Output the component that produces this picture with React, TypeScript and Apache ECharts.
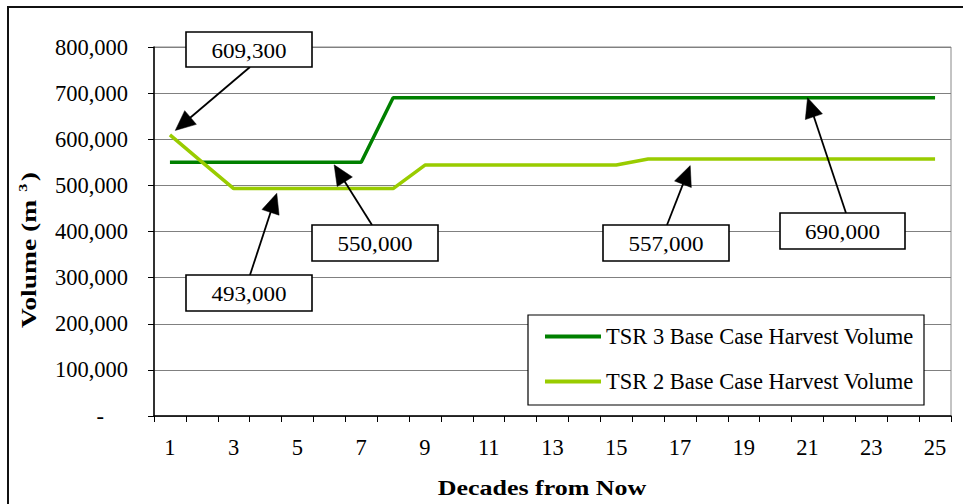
import React, { useEffect, useRef } from "react";
import * as echarts from "echarts";

const decades = ["1","2","3","4","5","6","7","8","9","10","11","12","13","14","15","16","17","18","19","20","21","22","23","24","25"];
const tsr3Volume = [550000,550000,550000,550000,550000,550000,550000,690000,690000,690000,690000,690000,690000,690000,690000,690000,690000,690000,690000,690000,690000,690000,690000,690000,690000];
const tsr2Volume = [609300,551000,493000,493000,493000,493000,493000,493000,544000,544000,544000,544000,544000,544000,544000,557000,557000,557000,557000,557000,557000,557000,557000,557000,557000];
const seriesNames = ["TSR 3 Base Case Harvest Volume", "TSR 2 Base Case Harvest Volume"];
const yMin = 0;
const yMax = 800000;
const yInterval = 100000;

// callouts: label text, decade (position along x), value pointed at
const calloutLabels = ["609,300", "493,000", "550,000", "557,000", "690,000"];
const calloutDecades = [1, 4.4, 6.1, 17.4, 21];
const calloutValues = [609300, 493000, 550000, 557000, 690000];
// layout of callout boxes (pixels): [x, y, w, h], arrow start [x, y], gap before target
const calloutBoxes = [[186,32,126,35],[186,275,126,36],[312,225,126,36],[603,225,126,36],[780,213,125,36]];
const calloutStarts = [[250,67],[250,275],[372,225],[667,225],[846,213]];
const calloutGaps = [7,5,3,7,0];

const FONT = "'Liberation Serif', 'Times New Roman', serif";

export default function App() {
  const ref = useRef<HTMLDivElement>(null);
  useEffect(() => {
    if (!ref.current) return;
    const chart = echarts.init(ref.current, null, { renderer: "svg" });
    const staticGraphics: any[] = [
      { type: "rect", z: 0, silent: true, shape: { x: 8, y: 7, width: 1000, height: 1000 }, style: { fill: "none", stroke: "#111", lineWidth: 2 } },
      { type: "rect", z: 3, silent: true, shape: { x: 528, y: 315, width: 396, height: 90 }, style: { fill: "#fff", stroke: "#000", lineWidth: 1.2 } },
      { type: "text", z: 10, x: 542, y: 488, scaleX: 1.18, style: { text: "Decades from Now", align: "center", verticalAlign: "middle", fontFamily: FONT, fontSize: 22, fontWeight: "bold", fill: "#000" } },
      { type: "text", z: 10, x: 28, y: 250, rotation: Math.PI / 2, scaleX: 1.25, style: {
        text: "{b|Volume (m }{s|3}{b|)}", align: "center", verticalAlign: "middle", fill: "#000",
        rich: {
          b: { fontFamily: FONT, fontSize: 22, fontWeight: "bold", lineHeight: 24 },
          s: { fontFamily: FONT, fontSize: 13, fontWeight: "bold", lineHeight: 24, verticalAlign: "top", padding: [0, 2, 0, 1] },
        } } },
    ];
    const option: any = {
      animation: false,
      backgroundColor: "#fff",
      grid: { left: 154, right: 12, top: 47, bottom: 88, show: true, borderColor: "#888", borderWidth: 1, backgroundColor: "transparent" },
      legend: {
        data: seriesNames, orient: "vertical", left: 545, top: 325, padding: 0, z: 5,
        icon: "rect", itemWidth: 56, itemHeight: 4, itemGap: 22,
        textStyle: { fontFamily: FONT, fontSize: 22.5, color: "#000", lineHeight: 22 },
      },
      xAxis: {
        type: "category", data: decades, boundaryGap: true,
        axisLine: { lineStyle: { color: "#000", width: 1.5 } },
        axisTick: { show: true, interval: 0, alignWithLabel: false, length: 6, lineStyle: { color: "#000" } },
        axisLabel: { interval: 1, margin: 20, fontFamily: FONT, fontSize: 22.5, color: "#000" },
        splitLine: { show: false },
      },
      yAxis: {
        type: "value", min: yMin, max: yMax, interval: yInterval,
        axisLine: { show: true, lineStyle: { color: "#000", width: 1.5 } },
        axisTick: { show: true, length: 6, lineStyle: { color: "#000" } },
        axisLabel: {
          margin: 26, fontFamily: FONT, fontSize: 22.5, color: "#000",
          formatter: (v: number) => (v === 0 ? "{z|-}" : v.toLocaleString("en-US")),
          rich: { z: { fontFamily: FONT, fontSize: 22.5, color: "#000", padding: [0, 24, 0, 0] } },
        },
        splitLine: { show: true, lineStyle: { color: "#808080", width: 1 } },
      },
      series: [
        { name: seriesNames[0], type: "line", data: tsr3Volume, symbol: "none", lineStyle: { color: "#008000", width: 3.5 }, itemStyle: { color: "#008000" }, z: 2 },
        { name: seriesNames[1], type: "line", data: tsr2Volume, symbol: "none", lineStyle: { color: "#99CC00", width: 3.5 }, itemStyle: { color: "#99CC00" }, z: 3 },
      ],
      graphic: staticGraphics,
    };
    chart.setOption(option);

    const calloutGraphics: any[] = [];
    calloutLabels.forEach((label, i) => {
      const value = calloutValues[i];
      const pA = chart.convertToPixel({ gridIndex: 0 } as any, [0, value]) as number[];
      const pB = chart.convertToPixel({ gridIndex: 0 } as any, [1, value]) as number[];
      const tx = pA[0] + (calloutDecades[i] - 1) * (pB[0] - pA[0]);
      const ty = pA[1];
      const [bx, by, bw, bh] = calloutBoxes[i];
      const [sx, sy] = calloutStarts[i];
      const dx = tx - sx, dy = ty - sy;
      const len = Math.sqrt(dx * dx + dy * dy);
      const ux = dx / len, uy = dy / len;
      const tipX = tx - ux * calloutGaps[i], tipY = ty - uy * calloutGaps[i];
      const headLen = 20, hw = 9;
      const baseX = tipX - ux * headLen, baseY = tipY - uy * headLen;
      const nx = -uy, ny = ux;
      calloutGraphics.push(
        { type: "line", z: 20, silent: true, shape: { x1: sx, y1: sy, x2: baseX + ux * 2, y2: baseY + uy * 2 }, style: { stroke: "#000", lineWidth: 1.8 } },
        { type: "polygon", z: 20, silent: true, shape: { points: [[tipX, tipY], [baseX + nx * hw, baseY + ny * hw], [baseX - nx * hw, baseY - ny * hw]] }, style: { fill: "#000", stroke: "#000", lineWidth: 0.5 } },
        { type: "rect", z: 21, silent: true, shape: { x: bx, y: by, width: bw, height: bh }, style: { fill: "#fff", stroke: "#000", lineWidth: 1.6 } },
        { type: "text", z: 22, silent: true, x: bx + bw / 2, y: by + bh / 2 + 1, scaleX: 1.05, style: { text: label, align: "center", verticalAlign: "middle", fontFamily: FONT, fontSize: 22, fill: "#000" } },
      );
    });
    chart.setOption({ graphic: [...staticGraphics, ...calloutGraphics] });

    return () => chart.dispose();
  }, []);
  return <div ref={ref} style={{ position: "absolute", left: 0, top: 0, width: 963, height: 504 }} />;
}
